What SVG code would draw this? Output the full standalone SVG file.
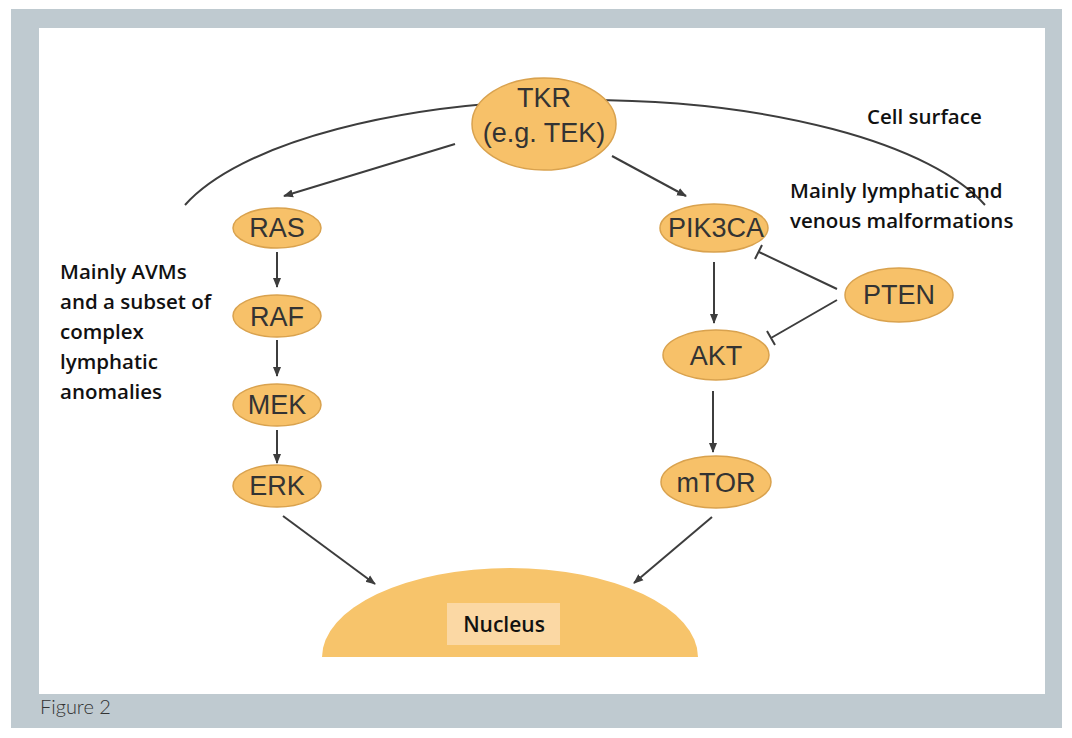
<svg xmlns="http://www.w3.org/2000/svg" width="1072" height="738" viewBox="0 0 1072 738">
<style>
.node{fill:#f7c169;stroke:#d9a24e;stroke-width:1.5}
.lbl{font-family:"Liberation Sans",Arial,sans-serif;font-size:27px;fill:#333;text-anchor:middle}
.note{font-family:"Open Sans","Noto Sans",sans-serif;font-size:20.5px;fill:#111;font-weight:600}
.edge{stroke:#3d3d3d;stroke-width:2;fill:none}
</style>
<defs>
<marker id="arr" viewBox="0 0 10 10" refX="9" refY="5" markerWidth="5" markerHeight="5" orient="auto" markerUnits="strokeWidth">
<path d="M0,1 L10,5 L0,9 Z" fill="#3d3d3d"/>
</marker>
</defs>
<rect x="0" y="0" width="1072" height="738" fill="#ffffff"/>
<rect x="11" y="9" width="1051" height="719" fill="#bfcad0"/>
<rect x="39" y="28" width="1006" height="666" fill="#ffffff"/>
<text x="40" y="714" font-family="Lato,'Open Sans',sans-serif" font-weight="300" font-size="20" fill="#333">Figure 2</text>

<g id="cell-surface">
<path d="M185,205 A420 151 0 0 1 985,205" class="edge"/>
<text x="867" y="124" class="note">Cell surface</text>
</g>

<g id="connectors">
<path class="edge" d="M455,144 L284,196" marker-end="url(#arr)"/>
<path class="edge" d="M612,156 L686,196" marker-end="url(#arr)"/>
<path class="edge" d="M277,252 L277,287" marker-end="url(#arr)"/>
<path class="edge" d="M277,340 L277,376" marker-end="url(#arr)"/>
<path class="edge" d="M277,430 L277,463" marker-end="url(#arr)"/>
<path class="edge" d="M714,262 L714,323" marker-end="url(#arr)"/>
<path class="edge" d="M713,391 L713,452" marker-end="url(#arr)"/>
<path class="edge" d="M283,516 L375,584" marker-end="url(#arr)"/>
<path class="edge" d="M712,517 L634,583" marker-end="url(#arr)"/>
<path class="edge" d="M837,289 L759,252 M755,259 L762,245"/>
<path class="edge" d="M837,300 L771,338 M767,331 L775,345"/>
</g>

<g id="nucleus">
<path d="M322,657 A188 89 0 0 1 698,657 Z" fill="#f7c46b"/>
<rect x="447" y="603" width="113" height="42" fill="#fbd8a4"/>
<text x="504" y="632" font-family="'Open Sans','Noto Sans',sans-serif" font-size="21" font-weight="600" fill="#111" text-anchor="middle">Nucleus</text>
</g>

<g id="tkr">
<ellipse cx="544" cy="124" rx="72" ry="46" class="node"/>
<text x="544" y="107" class="lbl" font-size="28">TKR</text>
<text x="544" y="142" class="lbl" font-size="28">(e.g. TEK)</text>
</g>
<g id="ras"><ellipse cx="277" cy="228" rx="44" ry="20" class="node"/><text x="277" y="237" class="lbl">RAS</text></g>
<g id="raf"><ellipse cx="277" cy="316" rx="44" ry="21" class="node"/><text x="277" y="326" class="lbl">RAF</text></g>
<g id="mek"><ellipse cx="277" cy="405" rx="44" ry="21" class="node"/><text x="277" y="414" class="lbl">MEK</text></g>
<g id="erk"><ellipse cx="277" cy="486" rx="44" ry="21" class="node"/><text x="277" y="495" class="lbl">ERK</text></g>
<g id="pik3ca"><ellipse cx="714" cy="228" rx="54" ry="24" class="node"/><text x="716" y="237" class="lbl">PIK3CA</text></g>
<g id="akt"><ellipse cx="716" cy="355" rx="53" ry="25" class="node"/><text x="716" y="365" class="lbl">AKT</text></g>
<g id="pten"><ellipse cx="899" cy="295" rx="54" ry="27" class="node"/><text x="899" y="304" class="lbl">PTEN</text></g>
<g id="mtor"><ellipse cx="716" cy="482" rx="55" ry="26" class="node"/><text x="716" y="492" class="lbl">mTOR</text></g>

<g id="notes">
<text x="790" y="198" class="note">Mainly lymphatic and</text>
<text x="790" y="228" class="note">venous malformations</text>
<text x="60" y="279" class="note">Mainly AVMs</text>
<text x="60" y="309" class="note">and a subset of</text>
<text x="60" y="339" class="note">complex</text>
<text x="60" y="369" class="note">lymphatic</text>
<text x="60" y="399" class="note">anomalies</text>
</g>
</svg>
